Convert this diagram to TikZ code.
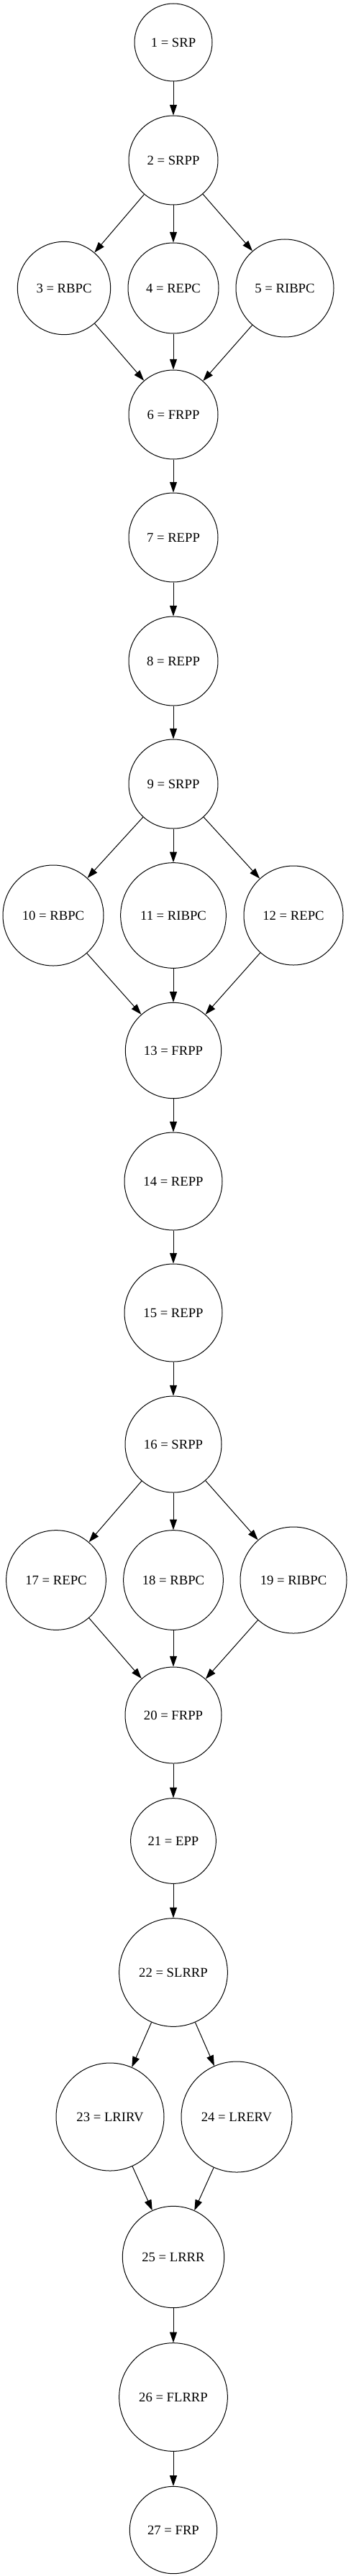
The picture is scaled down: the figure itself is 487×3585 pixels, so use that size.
\documentclass[tikz,border=0pt]{standalone}
\usepackage{fontspec}
\setmainfont{Liberation Serif}
\usetikzlibrary{arrows.meta}

\tikzset{
    state/.style={circle, draw, line width=0.75pt, inner sep=0pt,
        font=\fontsize{14}{16}\selectfont},
    flow/.style={-{Triangle[length=11pt, width=7.5pt]}, line width=0.75pt}
}

\begin{document}
\begin{tikzpicture}[x=0.75pt, y=-0.75pt]

    \useasboundingbox (0,0) rectangle (487,3585);

    % First block
    \node[state, minimum size=81pt]   (n1) at (241,59)   {1 = SRP};
    \node[state, minimum size=93pt]   (n2) at (241,223)  {2 = SRPP};
    \node[state, minimum size=97pt]   (n3) at (89,401)   {3 = RBPC};
    \node[state, minimum size=94.5pt] (n4) at (241,401)  {4 = REPC};
    \node[state, minimum size=102pt]  (n5) at (396,401)  {5 = RIBPC};
    \node[state, minimum size=93pt]   (n6) at (241,577)  {6 = FRPP};
    \node[state, minimum size=93pt]   (n7) at (241,748)  {7 = REPP};
    \node[state, minimum size=93pt]   (n8) at (241,920)  {8 = REPP};

    % Second block
    \node[state, minimum size=93pt]    (n9)  at (241,1091) {9 = SRPP};
    \node[state, minimum size=105pt]   (n10) at (74,1274)  {10 = RBPC};
    \node[state, minimum size=110pt]   (n11) at (241,1274) {11 = RIBPC};
    \node[state, minimum size=103.5pt] (n12) at (408,1274) {12 = REPC};
    \node[state, minimum size=100pt]   (n13) at (241,1462) {13 = FRPP};
    \node[state, minimum size=102pt]   (n14) at (241,1644) {14 = REPP};
    \node[state, minimum size=102pt]   (n15) at (241,1827) {15 = REPP};

    % Third block
    \node[state, minimum size=100.5pt] (n16) at (241,2010) {16 = SRPP};
    \node[state, minimum size=104pt]   (n17) at (78,2199)  {17 = REPC};
    \node[state, minimum size=104pt]   (n18) at (241,2199) {18 = RBPC};
    \node[state, minimum size=111pt]   (n19) at (408,2199) {19 = RIBPC};
    \node[state, minimum size=100.5pt] (n20) at (241,2387) {20 = FRPP};
    \node[state, minimum size=89pt]    (n21) at (241,2562) {21 = EPP};

    % Last block
    \node[state, minimum size=113pt]   (n22) at (241,2745) {22 = SLRRP};
    \node[state, minimum size=112.5pt] (n23) at (153,2946) {23 = LRIRV};
    \node[state, minimum size=115.5pt] (n24) at (329,2946) {24 = LRERV};
    \node[state, minimum size=106pt]   (n25) at (241,3141) {25 = LRRR};
    \node[state, minimum size=113pt]   (n26) at (241,3336) {26 = FLRRP};
    \node[state, minimum size=91pt]    (n27) at (241,3521) {27 = FRP};

    % Edges
    \foreach \a/\b in {n1/n2, n2/n3, n2/n4, n2/n5, n3/n6, n4/n6, n5/n6,
            n6/n7, n7/n8, n8/n9, n9/n10, n9/n11, n9/n12, n10/n13, n11/n13,
            n12/n13, n13/n14, n14/n15, n15/n16, n16/n17, n16/n18, n16/n19,
            n17/n20, n18/n20, n19/n20, n20/n21, n21/n22, n22/n23, n22/n24,
            n23/n25, n24/n25, n25/n26, n26/n27}
        \draw[flow] (\a) -- (\b);

\end{tikzpicture}
\end{document}
